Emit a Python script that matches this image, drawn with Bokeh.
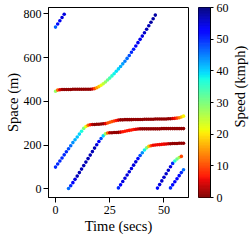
import numpy as np
from bokeh.plotting import figure
from bokeh.layouts import row
from bokeh.models import (ColumnDataSource, LinearColorMapper, FixedTicker, Label, Range1d)
from bokeh.transform import transform
from bokeh.embed import file_html
from bokeh.resources import INLINE

# ---------------- data (time s, space m, speed kmph) ----------------
tA = [0, 1, 2, 3, 4]
yA = [740, 754, 769, 784, 799]
vA = [47, 52, 54, 55, 55]

tB = list(range(0, 47))
yB = [447, 452, 454, 455, 455, 455, 455, 455, 456, 456, 456, 456, 456, 456, 456, 456,
      456, 457, 459, 463, 468, 474, 481, 489, 498, 507, 517, 527, 538, 549, 560, 572,
      584, 597, 610, 625, 639, 654, 669, 684, 699, 714, 730, 746, 762, 778, 795]
vB = [28, 12, 5, 2, 1, 1, 1, 1, 1, 1, 1, 1, 1, 1, 1, 1,
      1, 4, 10, 15, 18, 22, 25, 28, 31, 34, 36, 38, 39, 40, 42, 43,
      45, 46, 48, 50, 51, 53, 54, 54, 55, 56, 57, 57, 58, 58, 58]

tC = list(range(0, 60))
yC = [100, 114, 128, 142, 156, 170, 184, 198, 212, 225, 238, 251, 264, 277, 286, 291,
      294, 295, 295, 296, 296, 297, 298, 299, 302, 305, 308, 311, 313, 315, 316, 316,
      317, 317, 317, 317, 318, 318, 318, 318, 318, 319, 319, 319, 319, 319, 320, 320,
      320, 320, 320, 320, 321, 321, 322, 323, 324, 326, 329, 333]
vC = [50, 50, 50, 50, 50, 50, 48, 46, 44, 42, 41, 40, 37, 30, 22, 13,
      7, 3, 1, 1, 1, 1, 1, 5, 10, 11, 11, 9, 7, 4, 1, 1,
      1, 1, 1, 1, 1, 1, 1, 1, 1, 1, 1, 1, 1, 1, 1, 1,
      1, 1, 1, 1, 1, 1, 4, 6, 9, 13, 17, 21]

tD = list(range(6, 60))
yD = [2, 15, 29, 44, 59, 75, 91, 107, 123, 139, 155, 171, 187, 202, 217, 231,
      243, 252, 256, 257, 257, 258, 258, 259, 260, 262, 264, 266, 268, 270, 272, 273,
      274, 275, 275, 275, 275, 275, 275, 275, 275, 275, 275, 276, 276, 276, 276, 276,
      276, 276, 276, 276, 276, 276]
vD = [46, 50, 53, 55, 57, 57, 57, 57, 57, 57, 57, 57, 57, 55, 53, 48,
      40, 28, 12, 3, 1, 1, 1, 1, 4, 7, 7, 7, 7, 7, 7, 5,
      4, 2, 1, 1, 1, 1, 1, 1, 1, 1, 1, 1, 1, 1, 1, 1,
      1, 1, 1, 1, 1, 1]

tE = list(range(29, 60))
yE = [5, 19, 34, 49, 64, 79, 94, 109, 124, 139, 153, 166, 178, 188, 195, 198,
      200, 201, 202, 203, 204, 205, 206, 207, 207, 208, 208, 208, 209, 209, 209]
vE = [50, 53, 55, 55, 55, 55, 55, 55, 55, 52, 48, 44, 38, 30, 18, 10,
      6, 6, 6, 6, 6, 6, 5, 4, 1, 1, 1, 1, 1, 1, 1]

tF = list(range(47, 59))
yF = [4, 20, 37, 54, 70, 86, 102, 117, 128, 137, 144, 149]
vF = [52, 55, 56, 56, 56, 56, 55, 50, 36, 31, 27, 10]

tG = list(range(53, 60))
yG = [5, 19, 33, 47, 61, 75, 88]
vG = [50, 52, 53, 53, 52, 50, 46]

x_ticks = [0, 25, 50]
y_ticks = [0, 200, 400, 600, 800]
cb_ticks = [0, 10, 20, 30, 40, 50, 60]
speed_low, speed_high = 0, 60

# ---------------- jet_r palette ----------------
def jet(n=256):
    s = np.linspace(0, 1, n)
    r = np.interp(s, [0, 0.35, 0.66, 0.89, 1], [0, 0, 1, 1, 0.5])
    g = np.interp(s, [0, 0.125, 0.375, 0.64, 0.91, 1], [0, 0, 1, 1, 0, 0])
    b = np.interp(s, [0, 0.11, 0.34, 0.65, 1], [0.5, 1, 1, 0, 0])
    return ["#%02x%02x%02x" % (int(round(a * 255)), int(round(c * 255)), int(round(d * 255)))
            for a, c, d in zip(r, g, b)]

palette = jet()[::-1]
mapper = LinearColorMapper(palette=palette, low=speed_low, high=speed_high)

src = ColumnDataSource(dict(
    t=tA + tB + tC + tD + tE + tF + tG,
    y=yA + yB + yC + yD + yE + yF + yG,
    v=vA + vB + vC + vD + vE + vF + vG,
))

FONT = "Liberation Serif"
H = 240
TOP, BOTTOM = 7, 43

# ---------------- main plot ----------------
p = figure(width=189, height=H, x_range=Range1d(-3.24, 61.3), y_range=Range1d(-38.9, 829.7),
           output_backend="svg", toolbar_location=None,
           min_border_left=48, min_border_top=TOP, min_border_bottom=BOTTOM, min_border_right=1)
p.background_fill_color = "white"
p.outline_line_color = "black"
p.outline_line_alpha = 1
p.outline_line_width = 1
p.xgrid.visible = False
p.ygrid.visible = False

p.scatter("t", "y", source=src, size=3.6, fill_color=transform("v", mapper), line_color=None)

for ax in (p.xaxis[0], p.yaxis[0]):
    ax.axis_line_color = "black"
    ax.major_tick_line_color = "black"
    ax.major_tick_out = 5
    ax.major_tick_in = 0
    ax.minor_tick_line_color = None
    ax.major_label_text_font = FONT
    ax.major_label_text_font_size = "12px"
    ax.major_label_text_color = "black"
    ax.axis_label_text_font = FONT
    ax.axis_label_text_font_size = "14.5px"
    ax.axis_label_text_font_style = "normal"
    ax.axis_label_text_color = "black"

p.xaxis.major_label_standoff = 3
p.xaxis.axis_label_standoff = 1
p.yaxis.major_label_standoff = 2
p.yaxis.axis_label_standoff = 0

p.xaxis.ticker = FixedTicker(ticks=x_ticks)
p.yaxis.ticker = FixedTicker(ticks=y_ticks)
p.xaxis.axis_label = "Time (secs)"
p.yaxis.axis_label = "Space (m)"

# ---------------- colour bar (own small plot) ----------------
edges = np.linspace(speed_low, speed_high, len(palette) + 1)
cbp = figure(width=43, height=H, x_range=Range1d(0, 1), y_range=Range1d(speed_low, speed_high),
             output_backend="svg", toolbar_location=None, x_axis_location=None,
             y_axis_location="right",
             min_border_left=9, min_border_right=22, min_border_top=TOP, min_border_bottom=BOTTOM)
cbp.quad(left=0, right=1, bottom=edges[:-1], top=edges[1:], fill_color=palette,
         line_color=palette, line_width=0.5)
cbp.xgrid.visible = False
cbp.ygrid.visible = False
cbp.outline_line_color = "black"
cbp.outline_line_alpha = 1
ya = cbp.yaxis[0]
ya.ticker = FixedTicker(ticks=cb_ticks)
ya.axis_line_color = "black"
ya.major_tick_line_color = "black"
ya.major_tick_out = 3
ya.major_tick_in = 0
ya.minor_tick_line_color = None
ya.major_label_standoff = 3
ya.major_label_text_font = FONT
ya.major_label_text_font_size = "12px"
ya.major_label_text_color = "black"

# ---------------- colour bar title ----------------
lp = figure(width=18, height=H, x_range=Range1d(0, 18), y_range=Range1d(0, H),
            output_backend="svg", toolbar_location=None, x_axis_location=None,
            y_axis_location=None, min_border=0)
lp.outline_line_color = None
lp.xgrid.visible = False
lp.ygrid.visible = False
lp.add_layout(Label(x=7, y=H - 100, text="Speed (kmph)", angle=np.pi / 2,
                    text_align="center", text_baseline="middle",
                    text_font=FONT, text_font_size="14.5px", text_color="black"))

layout = row(p, cbp, lp)
open("out.html", "w").write(file_html(layout, INLINE))
